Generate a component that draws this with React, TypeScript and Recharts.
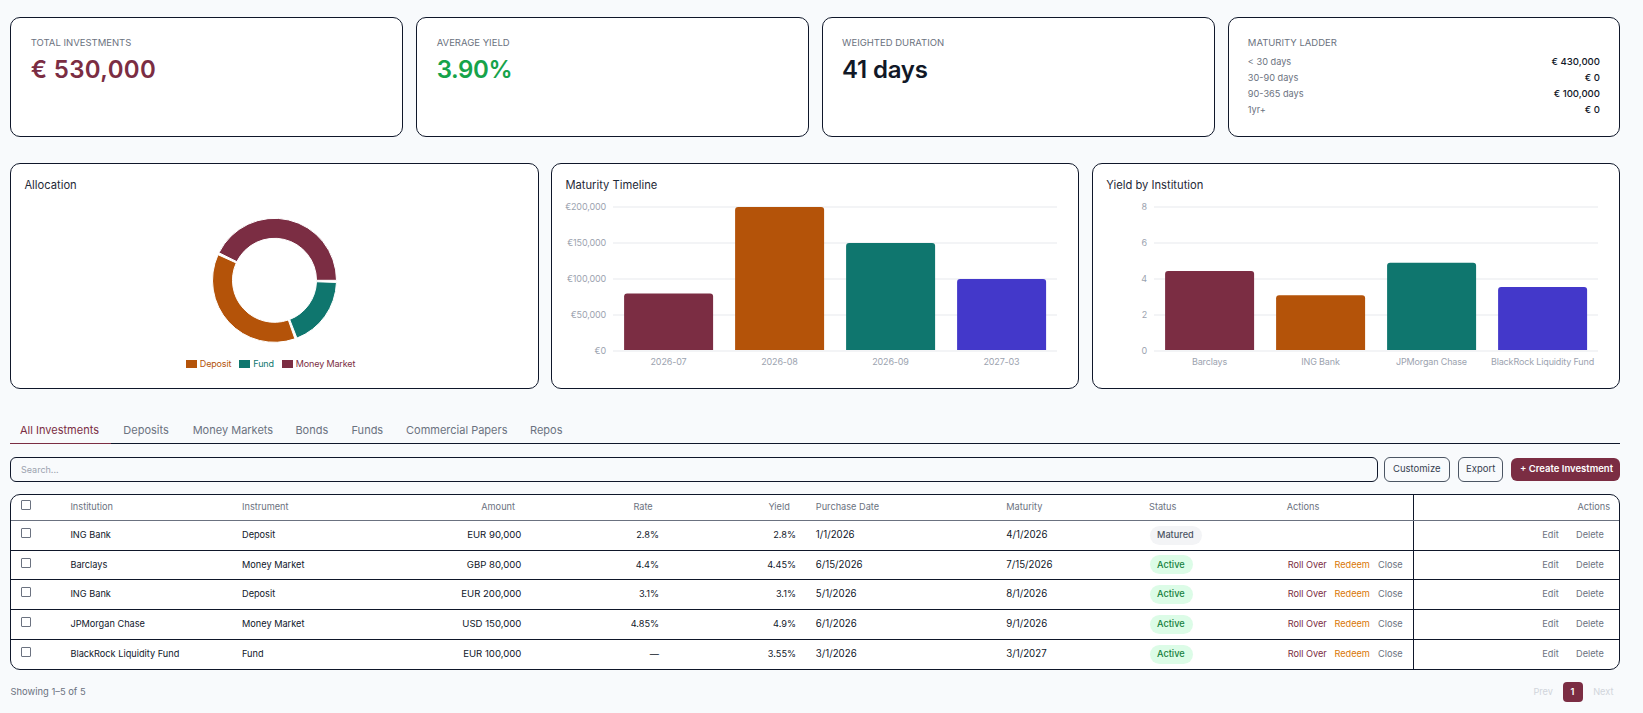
// Investments dashboard: KPI cards, three charts and the holdings table
import { BarChart, Bar, XAxis, YAxis, CartesianGrid, PieChart, Pie, Cell, Legend } from 'recharts';
import type { CSSProperties, ReactNode } from 'react';

const MAROON = '#7B2D43';
const ORANGE = '#B45309';
const TEAL = '#0F766E';
const INDIGO = '#4338CA';
const NAVY = '#0F172A';
const FONT = 'Inter, sans-serif';

const allocationNames = ['Money Market', 'Deposit', 'Fund'];
const allocationValues = [230000, 200000, 100000];
const allocationColors = [MAROON, ORANGE, TEAL];

const maturityMonths = ['2026-07', '2026-08', '2026-09', '2027-03'];
const maturityAmounts = [80000, 200000, 150000, 100000];
const maturityTicks = [0, 50000, 100000, 150000, 200000];

const yieldInstitutions = ['Barclays', 'ING Bank', 'JPMorgan Chase', 'BlackRock Liquidity Fund'];
const yieldValues = [4.45, 3.1, 4.9, 3.55];
const yieldTicks = [0, 2, 4, 6, 8];

const barColors = [MAROON, ORANGE, TEAL, INDIGO];

const ladderLabels = ['< 30 days', '30-90 days', '90-365 days', '1yr+'];
const ladderValues = ['€ 430,000', '€ 0', '€ 100,000', '€ 0'];

const tabNames = ['All Investments', 'Deposits', 'Money Markets', 'Bonds', 'Funds', 'Commercial Papers', 'Repos'];
const tabLefts = [20, 123.3, 192.7, 295.4, 351.5, 406, 530];

const institutions = ['ING Bank', 'Barclays', 'ING Bank', 'JPMorgan Chase', 'BlackRock Liquidity Fund'];
const instruments = ['Deposit', 'Money Market', 'Deposit', 'Money Market', 'Fund'];
const amounts = ['EUR 90,000', 'GBP 80,000', 'EUR 200,000', 'USD 150,000', 'EUR 100,000'];
const rates = ['2.8%', '4.4%', '3.1%', '4.85%', '—'];
const yields = ['2.8%', '4.45%', '3.1%', '4.9%', '3.55%'];
const purchaseDates = ['1/1/2026', '6/15/2026', '5/1/2026', '6/1/2026', '3/1/2026'];
const maturities = ['4/1/2026', '7/15/2026', '8/1/2026', '9/1/2026', '3/1/2027'];
const statuses = ['Matured', 'Active', 'Active', 'Active', 'Active'];
const rowTops = [520, 550.3, 579.3, 609.3, 639.3];
const rowBottoms = [550.3, 579.3, 609.3, 639.3, 669.3];

const allocationData = allocationNames.map((name, i) => ({ name, value: allocationValues[i] }));
const maturityData = maturityMonths.map((month, i) => ({ month, amount: maturityAmounts[i] }));
const yieldData = yieldInstitutions.map((name, i) => ({ name, value: yieldValues[i] }));

const axisTick = { fill: '#9CA3AF', fontSize: 9, fontFamily: FONT, letterSpacing: -0.15 };
const gridLine = { stroke: '#F3F4F6', strokeWidth: 2 };

// text placed by its vertical centre
function T({ x, r, y, size = 9.2, color = NAVY, weight = 400, style, children }: {
  x?: number; r?: number; y: number; size?: number; color?: string; weight?: number; style?: CSSProperties; children: ReactNode;
}) {
  return (
    <span style={{
      position: 'absolute',
      left: x,
      right: r !== undefined ? 1643 - r : undefined,
      top: y,
      transform: 'translateY(-50%)',
      fontSize: size,
      color,
      fontWeight: weight,
      lineHeight: 1,
      whiteSpace: 'nowrap',
      ...style,
    }}>{children}</span>
  );
}

function Card({ x, y, w, h }: { x: number; y: number; w: number; h: number }) {
  return <div style={{ position: 'absolute', left: x, top: y, width: w, height: h, boxSizing: 'border-box', background: '#fff', border: `1px solid ${NAVY}`, borderRadius: 10 }} />;
}

function Box({ x, y, w, h, border, bg, radius, }: { x: number; y: number; w: number; h: number; border?: string; bg?: string; radius?: number }) {
  return <div style={{ position: 'absolute', left: x, top: y, width: w, height: h, boxSizing: 'border-box', border, background: bg, borderRadius: radius }} />;
}

function MaturityChart() {
  return (
    <BarChart width={508} height={180} data={maturityData} margin={{ top: 11, right: 7, bottom: 5, left: 0 }} barCategoryGap="10%">
      <CartesianGrid vertical={false} {...gridLine} />
      <XAxis dataKey="month" height={20} tick={axisTick} axisLine={gridLine} tickLine={false} />
      <YAxis width={57} tickMargin={1} ticks={maturityTicks} domain={[0, 200000]} tick={axisTick} axisLine={false} tickLine={false} tickFormatter={(v: number) => `€${v.toLocaleString('en-US')}`} />
      <Bar dataKey="amount" radius={[3, 3, 0, 0]} isAnimationActive={false}>
        {maturityData.map((d, i) => <Cell key={d.month} fill={barColors[i]} />)}
      </Bar>
    </BarChart>
  );
}

function YieldChart() {
  return (
    <BarChart width={508} height={180} data={yieldData} margin={{ top: 11, right: 7, bottom: 5, left: 0 }} barCategoryGap="10%">
      <CartesianGrid vertical={false} {...gridLine} />
      <XAxis dataKey="name" height={20} interval={0} tick={axisTick} axisLine={gridLine} tickLine={false} />
      <YAxis width={57} tickMargin={1} ticks={yieldTicks} domain={[0, 8]} tick={axisTick} axisLine={false} tickLine={false} />
      <Bar dataKey="value" radius={[3, 3, 0, 0]} isAnimationActive={false}>
        {yieldData.map((d, i) => <Cell key={d.name} fill={barColors[i]} />)}
      </Bar>
    </BarChart>
  );
}

// tighter spacing than the default legend gives
function AllocationLegend({ payload }: { payload?: { value: string; color: string }[] }) {
  return (
    <div style={{ textAlign: 'center', fontSize: 9, letterSpacing: -0.15, fontFamily: FONT, lineHeight: '12px' }}>
      {(payload ?? []).map(item => (
        <span key={item.value} style={{ display: 'inline-block', marginRight: 8, color: item.color }}>
          <span style={{ display: 'inline-block', width: 11, height: 8, marginRight: 3, background: item.color, verticalAlign: -1 }} />
          {item.value}
        </span>
      ))}
    </div>
  );
}

function AllocationChart() {
  return (
    <PieChart width={499} height={180} margin={{ top: 0, right: 0, bottom: 0, left: 0 }}>
      <Pie
        data={allocationData}
        dataKey="value"
        nameKey="name"
        cx={249.5}
        cy={84.3}
        innerRadius={42}
        outerRadius={62}
        paddingAngle={2}
        isAnimationActive={false}
      >
        {allocationData.map((d, i) => <Cell key={d.name} fill={allocationColors[i]} />)}
      </Pie>
      <Legend content={(props: any) => <AllocationLegend payload={props.payload} />} wrapperStyle={{ bottom: 6 }} />
    </PieChart>
  );
}

export default function App() {
  const kpis = [
    { x: 10, label: 'TOTAL INVESTMENTS', value: '€ 530,000', color: MAROON, tx: 30.7, ls: 0.35 },
    { x: 416, label: 'AVERAGE YIELD', value: '3.90%', color: '#16A34A', tx: 436.7, ls: -0.4 },
    { x: 822, label: 'WEIGHTED DURATION', value: '41 days', color: '#111827', tx: 842.1, ls: -0.2 },
  ];
  const cols = { inst: 70.4, instr: 242, amount: 521.4, rate: 659, yld: 796, buy: 815.8, mat: 1006.3, status: 1149, act: 1287.7 };
  const head = '#6B7280';

  return (
    <div style={{ position: 'absolute', left: 0, top: 0, width: 1643, height: 713, background: '#F8FAFC', fontFamily: FONT, overflow: 'hidden' }}>
      {kpis.map(k => (
        <div key={k.label}>
          <Card x={k.x} y={17} w={393} h={120} />
          <T x={k.tx} y={42.7} size={9.5} color="#6B7280">{k.label}</T>
          <T x={k.tx} y={69.5} size={24} weight={600} color={k.color} style={{ letterSpacing: k.ls }}>{k.value}</T>
        </div>
      ))}
      <Card x={1228} y={17} w={392} h={120} />
      <T x={1247.8} y={42.7} size={9.5} color="#6B7280">MATURITY LADDER</T>
      {ladderLabels.map((l, i) => (
        <div key={l}>
          <T x={1247.8} y={61.7 + i * 16} color="#6B7280">{l}</T>
          <T r={1600} y={61.7 + i * 16} size={9.6} weight={500} color="#111827">{ladderValues[i]}</T>
        </div>
      ))}

      <Card x={10} y={163} w={529} h={226} />
      <T x={24.4} y={185.7} size={11.2} color="#1F2937">Allocation</T>
      <div style={{ position: 'absolute', left: 25, top: 196 }}><AllocationChart /></div>

      <Card x={551} y={163} w={528} h={226} />
      <T x={565.4} y={185.7} size={11.2} color="#1F2937">Maturity Timeline</T>
      <div style={{ position: 'absolute', left: 556, top: 195.7 }}><MaturityChart /></div>

      <Card x={1092} y={163} w={528} h={226} />
      <T x={1106.2} y={185.7} size={11.2} color="#1F2937">Yield by Institution</T>
      <div style={{ position: 'absolute', left: 1097, top: 195.7 }}><YieldChart /></div>

      {tabNames.map((t, i) => (
        <T key={t} x={tabLefts[i]} y={429.6} size={11} color={i === 0 ? MAROON : '#6B7280'}>{t}</T>
      ))}
      <Box x={10} y={443} w={1610} h={1} bg={NAVY} />
      <Box x={10} y={443} w={101} h={1} bg={MAROON} />

      <Box x={10} y={457.3} w={1367.5} h={24.4} border={`1px solid ${NAVY}`} radius={6} />
      <T x={21} y={469} size={9} color="#9CA3AF">Search...</T>
      <Box x={1384} y={457.3} w={65.5} h={24.4} border="1px solid #4B5563" radius={6} />
      <T x={1393} y={469} size={9.5} color="#374151">Customize</T>
      <Box x={1457.8} y={457.3} w={45.7} h={24.4} border="1px solid #4B5563" radius={6} />
      <T x={1466} y={469} size={9.5} color="#374151">Export</T>
      <Box x={1511.3} y={458} w={108.7} h={23} bg={MAROON} radius={6} />
      <T x={1520} y={469} size={9.5} weight={600} color="#fff">+ Create Investment</T>

      <Box x={10} y={494} w={1610} h={175.6} border={`1px solid ${NAVY}`} bg="#fff" radius={10} />
      <Box x={1413.3} y={494} w={1} h={175.6} bg={NAVY} />
      <Box x={11} y={519.7} w={1608} h={1} bg="#6B7280" />
      {rowBottoms.slice(0, 4).map(b => <Box key={b} x={11} y={b - 0.5} w={1608} h={1} bg={NAVY} />)}

      <Box x={21} y={500.3} w={10.4} h={10} border="1px solid #6B7280" bg="#fff" radius={1} />
      <T x={cols.inst} y={506.7} color={head}>Institution</T>
      <T x={cols.instr} y={506.7} color={head}>Instrument</T>
      <T r={515} y={506.7} color={head}>Amount</T>
      <T r={652.7} y={506.7} color={head}>Rate</T>
      <T r={789.8} y={506.7} color={head}>Yield</T>
      <T x={cols.buy} y={506.7} color={head}>Purchase Date</T>
      <T x={cols.mat} y={506.7} color={head}>Maturity</T>
      <T x={cols.status} y={506.7} color={head}>Status</T>
      <T x={1286.7} y={506.7} color={head}>Actions</T>
      <T r={1610} y={506.7} color={head}>Actions</T>

      {institutions.map((name, i) => {
        const c = (rowTops[i] + rowBottoms[i]) / 2;
        const active = statuses[i] === 'Active';
        return (
          <div key={i}>
            <Box x={21} y={c - 7} w={10.4} h={10} border="1px solid #6B7280" bg="#fff" radius={1} />
            <T x={cols.inst} y={c}>{name}</T>
            <T x={cols.instr} y={c}>{instruments[i]}</T>
            <T r={cols.amount} y={c} size={9.6}>{amounts[i]}</T>
            <T r={cols.rate} y={c}>{rates[i]}</T>
            <T r={cols.yld} y={c}>{yields[i]}</T>
            <T x={cols.buy} y={c} size={9.7}>{purchaseDates[i]}</T>
            <T x={cols.mat} y={c} size={9.7}>{maturities[i]}</T>
            <Box x={1149.7} y={c - 9.4} w={active ? 43 : 52} h={19} radius={9.5} bg={active ? '#DCFCE7' : '#F3F4F6'} />
            <T x={1157} y={c} weight={500} color={active ? '#15803D' : '#4B5563'}>{statuses[i]}</T>
            {active && (
              <>
                <T x={cols.act} y={c} color={MAROON}>Roll Over</T>
                <T x={1334.4} y={c} color="#D97706">Redeem</T>
                <T x={1378} y={c} color="#6B7280">Close</T>
              </>
            )}
            <T x={1542.3} y={c} color="#6B7280">Edit</T>
            <T x={1576} y={c} color="#6B7280">Delete</T>
          </div>
        );
      })}

      <T x={10.5} y={692} size={9.4} color="#6B7280">Showing 1–5 of 5</T>
      <T x={1533.4} y={692} color="#D1D5DB">Prev</T>
      <Box x={1563.3} y={682} w={20} h={20} radius={4} bg={MAROON} />
      <T x={1570.5} y={692} weight={600} color="#fff">1</T>
      <T x={1593.2} y={692} color="#D1D5DB">Next</T>
    </div>
  );
}
